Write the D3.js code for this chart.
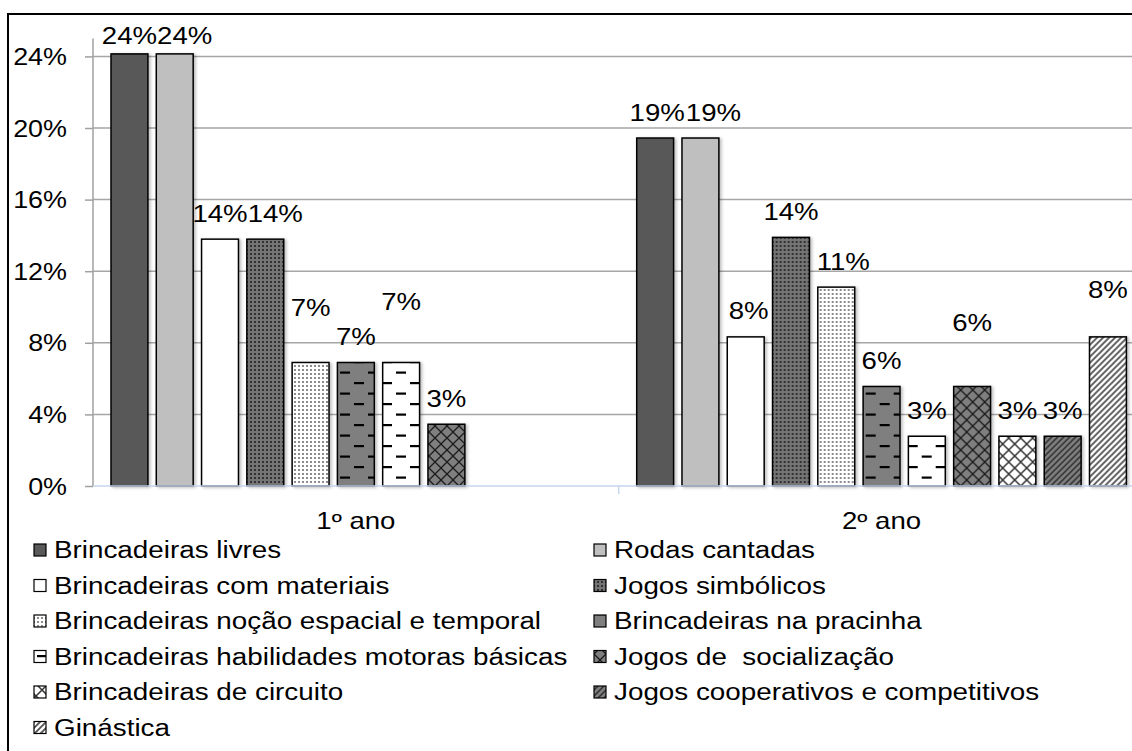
<!DOCTYPE html>
<html>
<head>
<meta charset="utf-8">
<script src="https://cdn.jsdelivr.net/npm/d3@7"></script>
<style>
  body { margin: 0; background: #fff; }
  svg { display: block; }
  text { font-family: "Liberation Sans", Arial, sans-serif; fill: #000; white-space: pre; }
</style>
</head>
<body>
<div id="chart"></div>
<script>
// data (percent)
var categories = ["1º ano", "2º ano"];
var series = [
  "Brincadeiras livres",
  "Rodas cantadas",
  "Brincadeiras com materiais",
  "Jogos simbólicos",
  "Brincadeiras noção espacial e temporal",
  "Brincadeiras na pracinha",
  "Brincadeiras habilidades motoras básicas",
  "Jogos de  socialização",
  "Brincadeiras de circuito",
  "Jogos cooperativos e competitivos",
  "Ginástica"
];
var ano1 = [24.14, 24.14, 13.79, 13.79, 6.90, 6.90, 6.90, 3.45, 0, 0, 0];
var ano2 = [19.44, 19.44, 8.33, 13.89, 11.11, 5.56, 2.78, 5.56, 2.78, 2.78, 8.33];
var yTicks = [0, 4, 8, 12, 16, 20, 24];

// hand-moved data labels in the original (extra lift / shift in px)
var labelLift = [
  [-7.5, -7.5, 0, 0, 28.5, 0, 34.5, 0, 0, 0, 0],
  [0, 0, 0, 0, 0, 0, 0, 37.5, 0, 0, 21]
];
var labelShift = [
  [0, 10, 0, 10, 0, 0, 0, 0, 0, 0, 0],
  [2, 13, 3, 0, 7, 0, 0, 0, 0, 0, 0]
];

var W = 1132, H = 751;
var svg = d3.select('#chart').append('svg').attr('width', W).attr('height', H);
var defs = svg.append('defs');

// fills
function pat(id, w, h, bg, draw) {
  var p = defs.append('pattern').attr('id', id)
      .attr('patternUnits', 'userSpaceOnUse').attr('width', w).attr('height', h);
  p.append('rect').attr('width', w).attr('height', h).attr('fill', bg);
  draw(p);
  return 'url(#' + id + ')';
}
function dots(col) {
  return function(p) {
    p.append('circle').attr('cx', 2).attr('cy', 2).attr('r', 0.9).attr('fill', col);
  };
}
function dashes(p) {
  p.append('rect').attr('x', 9).attr('y', 4).attr('width', 10).attr('height', 2.2).attr('fill', '#000');
  p.append('rect').attr('x', 23).attr('y', 14.5).attr('width', 10).attr('height', 2.2).attr('fill', '#000');
  p.append('rect').attr('x', -5).attr('y', 14.5).attr('width', 10).attr('height', 2.2).attr('fill', '#000');
}
function cross(col, sw) {
  return function(p) {
    p.append('path').attr('d', 'M0,0L12,12M12,0L0,12').attr('stroke', col).attr('stroke-width', sw);
  };
}
function diag(col, sw) {
  return function(p) {
    p.append('path').attr('d', 'M0,6L6,0M-1,1L1,-1M5,7L7,5').attr('stroke', col).attr('stroke-width', sw);
  };
}

var fills = [
  '#595959',
  '#bfbfbf',
  '#ffffff',
  pat('p3', 4, 4, '#747474', dots('#111')),
  pat('p4', 4, 4, '#ffffff', dots('#555')),
  pat('p5', 28, 21, '#7f7f7f', dashes),
  pat('p6', 28, 21, '#ffffff', dashes),
  pat('p7', 12, 12, '#7f7f7f', cross('#1a1a1a', 1.3)),
  pat('p8', 12, 12, '#ffffff', cross('#333', 1.5)),
  pat('p9', 6, 6, '#7f7f7f', diag('#2e2e2e', 1.5)),
  pat('p10', 6, 6, '#ffffff', diag('#555', 1.9))
];

var shadow = defs.append('filter').attr('id', 'sh')
    .attr('x', '-20%').attr('y', '-5%').attr('width', '150%').attr('height', '115%');
shadow.append('feDropShadow').attr('dx', 2).attr('dy', 1).attr('stdDeviation', 1.5)
    .attr('flood-color', '#000').attr('flood-opacity', 0.25);

// text helper: original picture is stretched sideways
function txt(g, x, y, s, size, anchor, sx) {
  return g.append('text')
    .attr('transform', 'translate(' + x + ',' + y + ') scale(' + (sx || 1.25) + ',1)')
    .attr('text-anchor', anchor || 'start')
    .style('font-size', size + 'px')
    .text(s);
}

// scales
var y = d3.scaleLinear().domain([0, 25]).range([486, 38.5]);
var x0 = d3.scaleBand().domain(categories).range([93, 1144.4]);
var x1 = d3.scaleBand().domain(series)
    .range([18, x0.bandwidth() - 18]).paddingInner(0.185);

// outer frame (cropped on right / bottom)
svg.append('path').attr('d', 'M8,' + (H + 5) + 'V14H' + (W + 5))
  .attr('fill', 'none').attr('stroke', '#000').attr('stroke-width', 2);

// gridlines
svg.selectAll('.grid').data(yTicks.filter(function(d){ return d > 0; }))
  .enter().append('line').attr('class', 'grid')
  .attr('x1', 93).attr('x2', 1144)
  .attr('y1', function(d){ return y(d); }).attr('y2', function(d){ return y(d); })
  .attr('stroke', '#a6a6a6').attr('stroke-width', 1.5);

// y axis
var yAxis = svg.append('g').attr('transform', 'translate(93,0)')
  .call(d3.axisLeft(y).tickValues(yTicks).tickSize(8).tickFormat(''));
yAxis.select('.domain').attr('d', 'M0,' + y(25) + 'V' + y(0)).attr('stroke', '#a0a0a0').attr('stroke-width', 1.5);
yAxis.selectAll('.tick line').attr('stroke', '#a0a0a0').attr('stroke-width', 1.5);
yTicks.forEach(function(t) {
  txt(svg, 67, y(t) + 8.5, t + '%', 23, 'end', 1.17);
});

// bars
var data = [ano1, ano2];
categories.forEach(function(cat, ci) {
  var g = svg.append('g').attr('transform', 'translate(' + x0(cat) + ',0)');
  series.forEach(function(s, si) {
    var v = data[ci][si];
    if (!v) return;
    g.append('rect')
      .attr('x', x1(s)).attr('width', x1.bandwidth())
      .attr('y', y(v)).attr('height', y(0) - y(v))
      .attr('fill', fills[si]).attr('stroke', '#000').attr('stroke-width', 1.5)
      .attr('filter', 'url(#sh)');
  });
  series.forEach(function(s, si) {
    var v = data[ci][si];
    if (!v) return;
    txt(g, x1(s) + x1.bandwidth() / 2 + labelShift[ci][si],
        y(v) - 17.5 - labelLift[ci][si], Math.round(v) + '%', 24, 'middle', 1.15);
  });
});

// x baseline and category tick
svg.append('line').attr('x1', 93).attr('x2', 1144).attr('y1', y(0)).attr('y2', y(0))
  .attr('stroke', '#c6d6ec').attr('stroke-width', 1.5);
svg.append('line').attr('x1', x0(categories[1])).attr('x2', x0(categories[1]))
  .attr('y1', y(0)).attr('y2', y(0) + 8)
  .attr('stroke', '#c6d6ec').attr('stroke-width', 1.5);
categories.forEach(function(c) {
  txt(svg, x0(c) + x0.bandwidth() / 2, 529, c, 23, 'middle', 1.2);
});

// legend, two columns
var legX = [34, 594], legY0 = 558, legStep = 35.5;
series.forEach(function(s, i) {
  var lx = legX[i % 2], ly = legY0 + Math.floor(i / 2) * legStep;
  svg.append('rect').attr('x', lx).attr('y', ly - 14).attr('width', 12).attr('height', 12)
    .attr('fill', fills[i]).attr('stroke', '#000').attr('stroke-width', 1.2);
  txt(svg, lx + 20, ly, s, 23, 'start', 1.21);
});
</script>
</body>
</html>
